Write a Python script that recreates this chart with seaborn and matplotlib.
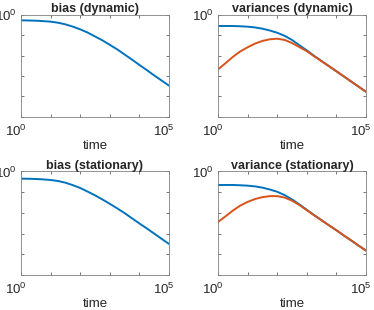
import numpy as np
import pandas as pd
import matplotlib
matplotlib.use("Agg")
import matplotlib.pyplot as plt
import matplotlib.transforms as mtransforms
import seaborn as sns

# time points where the curves were read (quarter decades, 1 .. 1e5)
TIME = [1, 1.78, 3.16, 5.62, 10, 17.8, 31.6, 56.2, 100, 178, 316, 562,
        1000, 1780, 3160, 5620, 10000, 17800, 31600, 56200, 100000]

BIAS_DYNAMIC = [0.519, 0.511, 0.500, 0.476, 0.447, 0.398, 0.331, 0.257,
                0.189, 0.132, 0.0851, 0.0550, 0.0331, 0.0200, 0.0112,
                0.00631, 0.00347, 0.00195, 0.00107, 0.000603, 0.000339]
VAR_DYNAMIC_BLUE = [0.275, 0.275, 0.275, 0.267, 0.255, 0.234, 0.204, 0.166,
                    0.129, 0.0912, 0.0575, 0.0316, 0.0178, 0.00955, 0.00537,
                    0.00302, 0.00170, 0.000955, 0.000537, 0.000302, 0.000170]
VAR_DYNAMIC_RED = [0.00211, 0.00417, 0.00851, 0.0158, 0.0251, 0.0380, 0.0513,
                   0.0617, 0.0661, 0.0575, 0.0407, 0.0257, 0.0162, 0.00912,
                   0.00525, 0.00302, 0.00170, 0.000955, 0.000537, 0.000302,
                   0.000170]

BIAS_STATIONARY = [0.451, 0.445, 0.435, 0.415, 0.389, 0.347, 0.288, 0.219,
                   0.160, 0.107, 0.0708, 0.0447, 0.0275, 0.0166, 0.00977,
                   0.00550, 0.00309, 0.00178, 0.00100, 0.000562, 0.000316]
VAR_STATIONARY_BLUE = [0.223, 0.223, 0.223, 0.216, 0.207, 0.191, 0.166,
                       0.135, 0.105, 0.0724, 0.0447, 0.0257, 0.0141, 0.00776,
                       0.00447, 0.00251, 0.00145, 0.000813, 0.000468,
                       0.000263, 0.000151]
VAR_STATIONARY_RED = [0.00363, 0.00676, 0.0129, 0.0224, 0.0339, 0.0468,
                      0.0575, 0.0646, 0.0646, 0.0550, 0.0389, 0.0240, 0.0135,
                      0.00759, 0.00437, 0.00251, 0.00145, 0.000813, 0.000468,
                      0.000263, 0.000151]

TITLES = ["bias (dynamic)", "variances (dynamic)",
          "bias (stationary)", "variance (stationary)"]

BLUE = "#0072BD"
RED = "#D95319"

sns.set_theme(style="ticks")
plt.rcParams["font.family"] = ["Liberation Sans", "DejaVu Sans"]
plt.rcParams["mathtext.fontset"] = "custom"
plt.rcParams["mathtext.rm"] = "Liberation Sans"
plt.rcParams["mathtext.it"] = "Liberation Sans"
plt.rcParams["mathtext.bf"] = "Liberation Sans:bold"


def make_frame(series):
    rows = []
    for name, values in series.items():
        for t, v in zip(TIME, values):
            rows.append({"time": t, "value": v, "series": name})
    return pd.DataFrame(rows)


panels = [
    {"bias": BIAS_DYNAMIC},
    {"total": VAR_DYNAMIC_BLUE, "part": VAR_DYNAMIC_RED},
    {"bias": BIAS_STATIONARY},
    {"total": VAR_STATIONARY_BLUE, "part": VAR_STATIONARY_RED},
]
palette = {"bias": BLUE, "total": BLUE, "part": RED}

# axes boxes in figure fractions (left, bottom, width, height)
positions = [
    [0.0561, 0.6226, 0.3957, 0.3306],
    [0.5829, 0.6226, 0.3957, 0.3306],
    [0.0561, 0.1129, 0.3957, 0.3339],
    [0.5829, 0.1129, 0.3957, 0.3339],
]

fig = plt.figure(figsize=(3.74, 3.10), dpi=100)
# matlab puts the x tick labels a few pixels left of the tick
shift = mtransforms.ScaledTranslation(-5 / 100, 0, fig.dpi_scale_trans)

for pos, series, title in zip(positions, panels, TITLES):
    ax = fig.add_axes(pos)
    df = make_frame(series)
    sns.lineplot(data=df, x="time", y="value", hue="series", palette=palette,
                 linewidth=1.4, legend=False, ax=ax, estimator=None)
    ax.set_xscale("log")
    ax.set_yscale("log")
    ax.set_xlim(1, 1e5)
    ax.set_ylim(1e-5, 1)

    ax.set_xticks([1, 10, 100, 1000, 10000, 100000])
    ax.set_xticklabels(["$10^0$", "", "", "", "", "$10^5$"])
    ax.set_yticks([1e-5, 1e-4, 1e-3, 1e-2, 1e-1, 1])
    ax.set_yticklabels(["", "", "", "", "", "$10^0$"])
    ax.minorticks_off()
    ax.tick_params(direction="in", length=2.5, width=0.5, colors="#404040",
                   labelcolor="#262626", labelsize=9.5, top=True, right=True,
                   pad=3)
    ax.tick_params(axis="x", pad=5)
    for lab in ax.get_xticklabels():
        lab.set_transform(lab.get_transform() + shift)
    for spine in ax.spines.values():
        spine.set_visible(True)
        spine.set_linewidth(0.6)
        spine.set_color("#808080")

    ax.set_xlabel("time", fontsize=9.5, color="#262626", labelpad=0.5)
    ax.set_ylabel("")
    ax.set_title(title, fontsize=9, fontweight="bold", pad=2)

fig.savefig("out.png", dpi=100)
